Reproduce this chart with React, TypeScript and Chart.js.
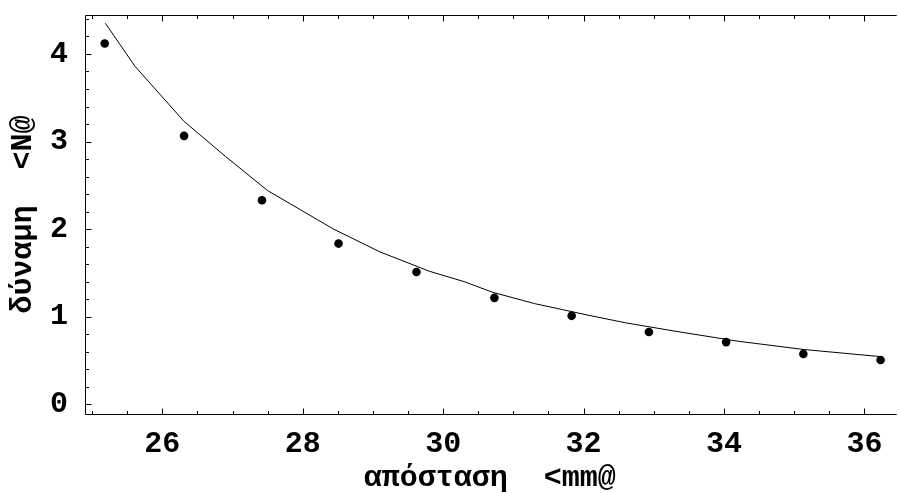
import React, { useEffect, useRef } from 'react';
import { Chart, registerables } from 'chart.js';

Chart.register(...registerables);

// measured points: distance [mm] vs force [N]
const distanceMm = [25.18, 26.31, 27.42, 28.51, 29.62, 30.73, 31.83, 32.93, 34.03, 35.13, 36.23];
const forceN = [4.12, 3.065, 2.33, 1.835, 1.51, 1.215, 1.01, 0.825, 0.71, 0.575, 0.505];

// fitted curve
const fitX = [25.19, 25.61, 26.31, 26.9, 27.5, 28.44, 29.1, 29.8, 30.3, 30.7, 31.3, 32.05, 32.6, 33.3, 34.2, 35.14, 36.22];
const fitY = [4.35, 3.86, 3.23, 2.83, 2.44, 2.0, 1.74, 1.52, 1.4, 1.28, 1.15, 1.02, 0.93, 0.835, 0.72, 0.625, 0.545];

const xTickLabels = [26, 28, 30, 32, 34, 36];
const yTickLabels = [0, 1, 2, 3, 4];

const xTitle = 'απόσταση  <mm@';
const yTitle = 'δύναμη  <N@';

const FONT_FAMILY = "'Liberation Mono', 'Courier New', monospace";

const seg = (ctx: CanvasRenderingContext2D, x1: number, y1: number, x2: number, y2: number) => {
  ctx.beginPath();
  ctx.moveTo(x1, y1);
  ctx.lineTo(x2, y2);
  ctx.stroke();
};

const framePlugin = {
  id: 'mmaFrame',
  afterDraw(chart: any) {
    const { ctx, chartArea, scales } = chart;
    const { left, top, right, bottom } = chartArea;
    const x = scales.x;
    const y = scales.y;
    ctx.save();
    ctx.strokeStyle = '#000';
    ctx.lineWidth = 1;
    const L = Math.round(left) + 0.5;
    const T = Math.round(top) + 0.5;
    const B = Math.round(bottom) + 0.5;
    seg(ctx, L, B, L, T);
    seg(ctx, L, T, right + 2, T);
    seg(ctx, L, B, right + 2, B);
    for (let v = 25; v <= 36.001; v += 0.5) {
      const px = Math.round(x.getPixelForValue(v)) + 0.5;
      const major = Math.abs(v / 2 - Math.round(v / 2)) < 1e-6;
      const len = major ? 6 : 3.5;
      seg(ctx, px, B, px, B - len);
      seg(ctx, px, T, px, T + len);
    }
    for (let i = 0; i <= 22; i++) {
      const v = i * 0.2;
      const py = Math.round(y.getPixelForValue(v)) + 0.5;
      const major = i % 5 === 0;
      const len = major ? 6 : 3.5;
      seg(ctx, L, py, L + len, py);
    }
    ctx.restore();
  },
};

const zeroPadding = (s: any) => {
  s.paddingTop = 0;
  s.paddingBottom = 0;
  s.paddingLeft = 0;
  s.paddingRight = 0;
};

export default function App() {
  const canvasRef = useRef<HTMLCanvasElement | null>(null);

  useEffect(() => {
    const canvas = canvasRef.current;
    if (!canvas) return;
    const font = { family: FONT_FAMILY, size: 30, weight: 'bold' as const, lineHeight: 1 };
    const chart = new Chart(canvas, {
      type: 'scatter',
      data: {
        datasets: [
          {
            label: 'fit',
            data: fitX.map((v, i) => ({ x: v, y: fitY[i] })),
            showLine: true,
            borderColor: '#000',
            borderWidth: 1,
            pointRadius: 0,
            tension: 0,
            fill: false,
          },
          {
            label: 'data',
            data: distanceMm.map((v, i) => ({ x: v, y: forceN[i] })),
            showLine: false,
            backgroundColor: '#000',
            borderColor: '#000',
            pointRadius: 4.3,
            pointBorderWidth: 0,
          },
        ],
      },
      options: {
        animation: false,
        responsive: false,
        devicePixelRatio: 1,
        // plot area runs past the right edge of the picture (open right side)
        layout: { padding: { top: 15, right: -6, bottom: 0, left: 0 } },
        plugins: {
          legend: { display: false },
          tooltip: { enabled: false },
        },
        scales: {
          x: {
            type: 'linear',
            position: 'bottom',
            min: 24.899,
            max: 36.431,
            grid: { display: false, drawTicks: false, drawOnChartArea: false },
            border: { display: false },
            afterBuildTicks: (s: any) => {
              s.ticks = xTickLabels.map((v) => ({ value: v }));
            },
            afterFit: (s: any) => {
              s.height = 79;
              zeroPadding(s);
            },
            ticks: {
              color: '#000',
              font,
              padding: 15,
              maxRotation: 0,
              autoSkip: false,
              callback: (v: any) => String(v),
            },
            title: {
              display: true,
              text: xTitle,
              color: '#000',
              font,
              padding: { top: 0, bottom: 0 },
            },
          },
          y: {
            type: 'linear',
            min: -0.111,
            max: 4.445,
            grid: { display: false, drawTicks: false, drawOnChartArea: false },
            border: { display: false },
            afterBuildTicks: (s: any) => {
              s.ticks = yTickLabels.map((v) => ({ value: v }));
            },
            afterFit: (s: any) => {
              s.width = 85;
              zeroPadding(s);
            },
            ticks: {
              color: '#000',
              font,
              padding: 17,
              autoSkip: false,
              callback: (v: any) => String(v),
            },
            title: {
              display: true,
              text: yTitle,
              color: '#000',
              font,
              padding: { top: 8, bottom: 0 },
            },
          },
        },
      },
      plugins: [framePlugin],
    });
    return () => chart.destroy();
  }, []);

  return (
    <div style={{ position: 'fixed', left: 0, top: 0, width: 899, height: 493, background: '#fff' }}>
      <canvas ref={canvasRef} width={899} height={493} style={{ display: 'block' }} />
    </div>
  );
}
